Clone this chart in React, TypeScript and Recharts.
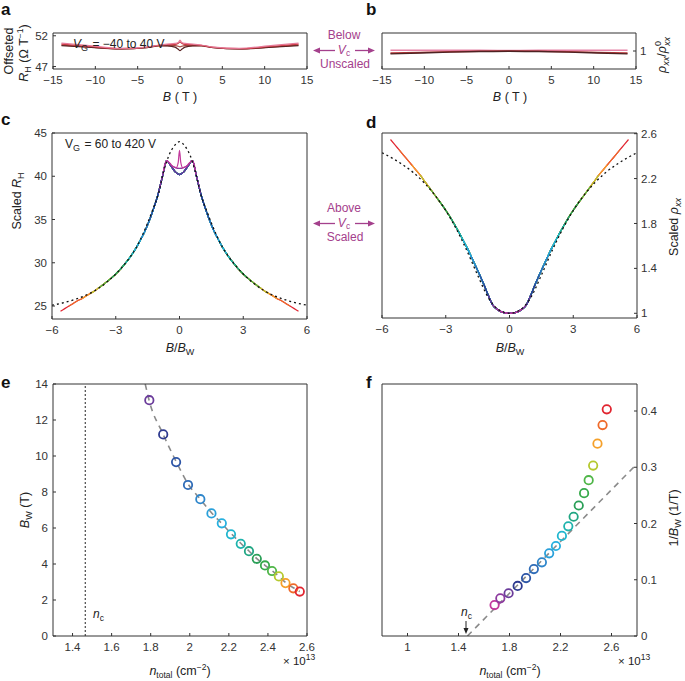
import React from 'react';
import { ComposedChart, Line, Scatter, XAxis, YAxis, ReferenceLine } from 'recharts';

const FONT = '"Liberation Sans", Arial, Helvetica, sans-serif';
const INK = '#333';
const NOTE = '#a4408c';
const FIELD_MAX = 14;

// one colour per gate voltage, lowest density first
const gateColors = [
  '#c2399c', '#8d3a9f', '#6b3c9b', '#2e3a8f', '#2d55a6', '#2f6cb8', '#2e86cb', '#2aa0da', '#27b0df', '#20b6cf',
  '#1eb3ad', '#21a683', '#2a9f57', '#36a94a', '#4fb648', '#b5c92f', '#f5a02a', '#ef6a2a', '#e12530',
];
const nTotal = [1.683, 1.728, 1.793, 1.864, 1.93, 1.991, 2.054, 2.111, 2.164, 2.211, 2.261, 2.303, 2.343, 2.385, 2.421, 2.456, 2.49, 2.53, 2.563];
const invBW = [0.055, 0.067, 0.076, 0.089, 0.103, 0.119, 0.131, 0.147, 0.16, 0.178, 0.195, 0.212, 0.232, 0.254, 0.277, 0.303, 0.342, 0.375, 0.403];
const bW = [null, null, 13.1, 11.2, 9.66, 8.39, 7.6, 6.81, 6.26, 5.65, 5.12, 4.71, 4.29, 3.92, 3.61, 3.31, 2.94, 2.65, 2.47];
const nC = 1.465;

// panel e/f fit lines
const eFitN = [1.772, 1.793, 1.864, 1.93, 1.991, 2.054, 2.111, 2.164, 2.211, 2.261, 2.303, 2.343, 2.385, 2.421, 2.456, 2.49, 2.53, 2.563];
const eFitB = [14.0, 13.05, 11.2, 9.7, 8.45, 7.6, 6.85, 6.25, 5.7, 5.15, 4.72, 4.3, 3.93, 3.62, 3.32, 2.98, 2.68, 2.47];
const fFitN = [1.47, 2.8];
const fFitInv = [0.0, 0.306];

// panel a: Hall coefficient below V_c
const aField = [-14, -11, -7, -4, -2.5, -1.5, -0.6, -0.2, 0, 0.2, 0.6, 1.5, 2.5, 4, 7, 11, 14];
const aPink = [50.8, 50.45, 49.95, 50.15, 50.5, 50.65, 50.75, 50.9, 51.3, 50.9, 50.75, 50.65, 50.5, 50.15, 49.95, 50.45, 50.8];
const aRed = [50.65, 50.3, 49.9, 50.1, 50.45, 50.55, 50.6, 50.8, 51.0, 50.8, 50.6, 50.55, 50.45, 50.1, 49.9, 50.3, 50.65];
const aBrown = [50.5, 50.2, 49.85, 50.05, 50.35, 50.4, 50.4, 50.3, 50.2, 50.3, 50.4, 50.4, 50.35, 50.05, 49.85, 50.2, 50.5];
const aDark = [50.4, 50.15, 49.85, 50.05, 50.4, 50.35, 50.15, 49.8, 49.6, 49.8, 50.15, 50.35, 50.4, 50.05, 49.85, 50.15, 50.4];

// panel b: normalised rho_xx below V_c
const bField = [-14, -10.5, -7, -3.5, 0, 3.5, 7, 10.5, 14];
const bPink = [1.004, 1.004, 1.004, 1.004, 1.003, 1.004, 1.004, 1.004, 1.004];
const bRed = [0.988, 0.992, 0.996, 0.999, 1.0, 0.999, 0.996, 0.992, 0.988];
const bDark = [0.984, 0.989, 0.994, 0.997, 0.999, 0.997, 0.994, 0.989, 0.984];

// panels c/d: scaled curves on a B/B_W grid
const scaledField = [
  -5.6, -5.4, -5.2, -5, -4.8, -4.6, -4.4, -4.2, -4, -3.8, -3.6, -3.4, -3.2, -3, -2.8, -2.6, -2.4, -2.2, -2, -1.8,
  -1.6, -1.4, -1.2, -1, -0.8, -0.6, -0.4, -0.2, 0, 0.2, 0.4, 0.6, 0.8, 1, 1.2, 1.4, 1.6, 1.8, 2, 2.2,
  2.4, 2.6, 2.8, 3, 3.2, 3.4, 3.6, 3.8, 4, 4.2, 4.4, 4.6, 4.8, 5, 5.2, 5.4, 5.6,
];
const cScaledRH = [
  24.4, 24.7, 25.0, 25.3, 25.6, 25.85, 26.15, 26.45, 26.75, 27.1, 27.45, 27.85, 28.25, 28.7, 29.2, 29.8, 30.4, 31.1, 31.9, 32.8,
  33.8, 35.0, 36.4, 38.0, 40.0, 41.8, 41.2, 40.5, 40.2, 40.5, 41.2, 41.8, 40.0, 38.0, 36.4, 35.0, 33.8, 32.8, 31.9, 31.1,
  30.4, 29.8, 29.2, 28.7, 28.25, 27.85, 27.45, 27.1, 26.75, 26.45, 26.15, 25.85, 25.6, 25.3, 25.0, 24.7, 24.4,
];
const dScaledRho = [
  2.548, 2.503, 2.457, 2.411, 2.366, 2.321, 2.276, 2.23, 2.178, 2.126, 2.075, 2.024, 1.972, 1.918, 1.86, 1.795, 1.728, 1.658, 1.585, 1.506,
  1.424, 1.34, 1.254, 1.16, 1.076, 1.038, 1.015, 1.004, 1.0, 1.004, 1.015, 1.038, 1.076, 1.16, 1.254, 1.34, 1.424, 1.506, 1.585, 1.658,
  1.728, 1.795, 1.86, 1.918, 1.972, 2.024, 2.075, 2.126, 2.178, 2.23, 2.276, 2.321, 2.366, 2.411, 2.457, 2.503, 2.548,
];
const cMagentaField = [-0.77, -0.7, -0.6, -0.45, -0.3, -0.15, -0.06, 0, 0.06, 0.15, 0.3, 0.45, 0.6, 0.7, 0.77];
const cMagenta = [40.3, 41.3, 41.8, 41.5, 41.1, 41.0, 41.6, 43.0, 41.6, 41.0, 41.1, 41.5, 41.8, 41.3, 40.3];
const cPurpleField = [-0.94, -0.8, -0.6, -0.4, -0.2, 0, 0.2, 0.4, 0.6, 0.8, 0.94];
const cPurple = [38.6, 40.0, 41.8, 41.3, 41.0, 40.9, 41.0, 41.3, 41.8, 40.0, 38.6];

const cFitField = [-6, -5.5, -5, -4.5, -4, -3.5, -3, -2.5, -2, -1.5, -1.25, -1, -0.75, -0.5, -0.25, 0, 0.25, 0.5, 0.75, 1, 1.25, 1.5, 2, 2.5, 3, 3.5, 4, 4.5, 5, 5.5, 6];
const cFit = [25.1, 25.35, 25.7, 26.15, 26.75, 27.6, 28.7, 30.1, 31.9, 34.6, 36.2, 37.9, 40.5, 42.4, 43.5, 44.0, 43.5, 42.4, 40.5, 37.9, 36.2, 34.6, 31.9, 30.1, 28.7, 27.6, 26.75, 26.15, 25.7, 25.35, 25.1];
const dFitField = [-6, -5.5, -5, -4.5, -4, -3.5, -3, -2.5, -2, -1.5, -1, -0.5, 0, 0.5, 1, 1.5, 2, 2.5, 3, 3.5, 4, 4.5, 5, 5.5, 6];
const dFit = [2.43, 2.38, 2.32, 2.25, 2.16, 2.05, 1.915, 1.75, 1.555, 1.34, 1.14, 1.03, 1.0, 1.03, 1.14, 1.34, 1.555, 1.75, 1.915, 2.05, 2.16, 2.25, 2.32, 2.38, 2.43];

type Pt = { x: number; y: number | null; color?: string };
type Box = { left: number; top: number; width: number; height: number };

const pts = (xs: number[], ys: (number | null)[]): Pt[] => xs.map((x, i) => ({ x, y: ys[i] }));
const fmt = (v: number) => String(Number(v.toFixed(2))).replace('-', '\u2212');

const AX_W = 46;
const AX_T = 12;
const AX_B = 30;
const tickStyle = { fontSize: 11.5, fill: INK };

interface PanelProps {
  box: Box;
  xDomain: [number, number];
  xTicks: number[];
  yDomain: [number, number];
  yTicks: number[];
  labelSide: 'left' | 'right';
  children: React.ReactNode;
}

const Panel: React.FC<PanelProps> = ({ box, xDomain, xTicks, yDomain, yTicks, labelSide, children }) => (
  <div style={{ position: 'absolute', left: box.left - AX_W, top: box.top - AX_T }}>
    <ComposedChart
      width={box.width + 2 * AX_W}
      height={box.height + AX_T + AX_B}
      margin={{ top: 0, right: 0, bottom: 0, left: 0 }}
      style={{ fontFamily: FONT }}
    >
      <XAxis xAxisId="b" dataKey="x" type="number" domain={xDomain} ticks={xTicks} allowDataOverflow interval={0}
        tickFormatter={fmt} tickSize={-3} tickMargin={10} height={AX_B} stroke={INK} tick={tickStyle} />
      <XAxis xAxisId="t" orientation="top" dataKey="x" type="number" domain={xDomain} ticks={xTicks} allowDataOverflow
        interval={0} tick={false} tickSize={-3} height={AX_T} stroke={INK} />
      <YAxis yAxisId="l" orientation="left" type="number" domain={yDomain} ticks={yTicks} allowDataOverflow interval={0}
        tickFormatter={fmt} tick={labelSide === 'left' ? tickStyle : false} tickSize={-3} tickMargin={8} width={AX_W} stroke={INK} />
      <YAxis yAxisId="r" orientation="right" type="number" domain={yDomain} ticks={yTicks} allowDataOverflow interval={0}
        tickFormatter={fmt} tick={labelSide === 'right' ? tickStyle : false} tickSize={-3} tickMargin={7} width={AX_W} stroke={INK} />
      {children}
    </ComposedChart>
  </div>
);

const curve = (key: string, data: Pt[], color: string, width = 1.2, dash?: string) => (
  <Line key={key} data={data} dataKey="y" xAxisId="b" yAxisId="l" type="monotone" dot={false} stroke={color}
    strokeWidth={width} strokeDasharray={dash} isAnimationActive={false} connectNulls={false} />
);

const Ring = (props: any) => {
  const { cx, cy, payload } = props;
  if (typeof cx !== 'number' || typeof cy !== 'number' || !payload) return null;
  return <circle cx={cx} cy={cy} r={4.2} fill="none" stroke={payload.color} strokeWidth={1.8} />;
};

// draw outer (red) curves first so inner gates sit on top
const gateOrder = gateColors.map((_, i) => gateColors.length - 1 - i);
const reach = (i: number) => FIELD_MAX * invBW[i] + 1e-6;

const cCurves = gateOrder.map((i) => {
  if (i === 0) return curve(`c${i}`, pts(cMagentaField, cMagenta), gateColors[i]);
  if (i === 1) return curve(`c${i}`, pts(cPurpleField, cPurple), gateColors[i]);
  const data = pts(scaledField, cScaledRH).filter((p) => Math.abs(p.x) <= reach(i));
  return curve(`c${i}`, data, gateColors[i]);
});
const dCurves = gateOrder.map((i) =>
  curve(`d${i}`, pts(scaledField, dScaledRho).filter((p) => Math.abs(p.x) <= reach(i)), gateColors[i])
);

const eData: Pt[] = nTotal
  .map((x, i) => ({ x, y: bW[i], color: gateColors[i] }))
  .filter((p) => p.y !== null);
const fData: Pt[] = nTotal.map((x, i) => ({ x, y: invBW[i], color: gateColors[i] }));

const Sub: React.FC<{ children: React.ReactNode; size?: number }> = ({ children, size = 9 }) => (
  <>
    <tspan dy={3} fontSize={size}>{children}</tspan>
    <tspan dy={-3}>{'\u200a'}</tspan>
  </>
);

const Arrow: React.FC<{ x1: number; x2: number; y: number }> = ({ x1, x2, y }) => {
  const d = x2 > x1 ? 1 : -1;
  return (
    <g>
      <line x1={x1} y1={y} x2={x2 - d * 5} y2={y} stroke={NOTE} strokeWidth={1.3} />
      <polygon points={`${x2},${y} ${x2 - d * 7},${y - 3} ${x2 - d * 7},${y + 3}`} fill={NOTE} />
    </g>
  );
};

const Note: React.FC<{ top: string; bottom: string; y: number }> = ({ top, bottom, y }) => (
  <g fill={NOTE} fontSize={12} textAnchor="middle">
    <text x={344} y={y}>{top}</text>
    <text x={344} y={y + 14.5}>
      <tspan fontStyle="italic">V</tspan>
      <tspan dy={2} fontSize={8.5}>c</tspan>
    </text>
    <text x={345} y={y + 29}>{bottom}</text>
    <Arrow x1={335} x2={313} y={y + 11.5} />
    <Arrow x1={355} x2={375} y={y + 11.5} />
  </g>
);

const Overlay: React.FC = () => (
  <svg width={685} height={681} style={{ position: 'absolute', left: 0, top: 0, pointerEvents: 'none' }} fontFamily={FONT} fill="#222">
    <g fontSize={17} fontWeight="bold" fill="#111">
      <text x={1} y={15}>a</text>
      <text x={366} y={15}>b</text>
      <text x={1} y={125}>c</text>
      <text x={366} y={128}>d</text>
      <text x={1} y={388}>e</text>
      <text x={366} y={388}>f</text>
    </g>
    <g fontSize={12}>
      <text x={73} y={48}>
        <tspan fontStyle="italic">V</tspan><Sub>G</Sub>{' = \u221240 to 40 V'}
      </text>
      <text x={65} y={148}>
        V<Sub>G</Sub>{' = 60 to 420 V'}
      </text>
    </g>
    <g fontSize={12.5} textAnchor="middle">
      <text x={180} y={101}><tspan fontStyle="italic">B</tspan> ( T )</text>
      <text x={510} y={101}><tspan fontStyle="italic">B</tspan> ( T )</text>
      <text x={180} y={352}>
        <tspan fontStyle="italic">B</tspan>/<tspan fontStyle="italic">B</tspan><tspan dy={3} fontSize={9}>W</tspan>
      </text>
      <text x={510} y={352}>
        <tspan fontStyle="italic">B</tspan>/<tspan fontStyle="italic">B</tspan><tspan dy={3} fontSize={9}>W</tspan>
      </text>
      <text x={180} y={675}>
        <tspan fontStyle="italic">n</tspan><tspan dy={3} fontSize={8.5}>total</tspan><tspan dy={-3}> (cm</tspan>
        <tspan dy={-5} fontSize={8.5}>{'\u22122'}</tspan><tspan dy={5}>)</tspan>
      </text>
      <text x={510} y={675}>
        <tspan fontStyle="italic">n</tspan><tspan dy={3} fontSize={8.5}>total</tspan><tspan dy={-3}> (cm</tspan>
        <tspan dy={-5} fontSize={8.5}>{'\u22122'}</tspan><tspan dy={5}>)</tspan>
      </text>
      <text transform="translate(13,51) rotate(-90)">Offseted</text>
      <text transform="translate(28,53) rotate(-90)">
        <tspan fontStyle="italic">R</tspan><tspan dy={3} fontSize={9}>H</tspan><tspan dy={-3}> ({'\u03a9'} T</tspan>
        <tspan dy={-5} fontSize={8.5}>{'\u22121'}</tspan><tspan dy={5}>)</tspan>
      </text>
      <text transform="translate(666,55) rotate(-90)">
        <tspan fontStyle="italic">{'\u03c1'}</tspan><tspan dy={3} fontSize={9} fontStyle="italic">xx</tspan>
        <tspan dy={-3}>/</tspan><tspan fontStyle="italic">{'\u03c1'}</tspan>
        <tspan dy={-5} fontSize={9}>0</tspan><tspan dx={-5} dy={9} fontSize={9} fontStyle="italic">xx</tspan>
      </text>
      <text transform="translate(21,201) rotate(-90)">
        Scaled <tspan fontStyle="italic">R</tspan><tspan dy={3} fontSize={9}>H</tspan>
      </text>
      <text transform="translate(678,227) rotate(-90)">
        Scaled <tspan fontStyle="italic">{'\u03c1'}</tspan><tspan dy={3} fontSize={9} fontStyle="italic">xx</tspan>
      </text>
      <text transform="translate(29,510) rotate(-90)">
        <tspan fontStyle="italic">B</tspan><tspan dy={3} fontSize={9}>W</tspan><tspan dy={-3}> (T)</tspan>
      </text>
      <text transform="translate(678,518) rotate(-90)">
        1/<tspan fontStyle="italic">B</tspan><tspan dy={3} fontSize={9}>W</tspan><tspan dy={-3}> (1/T)</tspan>
      </text>
    </g>
    <g fontSize={11.5}>
      <text x={283} y={665}>{'\u00d7 10'}<tspan dy={-5} fontSize={8.5}>13</tspan></text>
      <text x={618} y={665}>{'\u00d7 10'}<tspan dy={-5} fontSize={8.5}>13</tspan></text>
      <text x={93} y={618} fontSize={12}>
        <tspan fontStyle="italic">n</tspan><tspan dy={3} fontSize={8.5}>c</tspan>
      </text>
      <text x={461} y={616} fontSize={12}>
        <tspan fontStyle="italic">n</tspan><tspan dy={3} fontSize={8.5}>c</tspan>
      </text>
    </g>
    <line x1={466} y1={621} x2={466} y2={630} stroke="#222" strokeWidth={1} />
    <polygon points="466,634 463.5,628 468.5,628" fill="#222" />
    <Note top="Below" bottom="Unscaled" y={39} />
    <Note top="Above" bottom="Scaled" y={212} />
  </svg>
);

const boxA: Box = { left: 53, top: 33, width: 254, height: 36 };
const boxB: Box = { left: 382, top: 33, width: 254, height: 36 };
const boxC: Box = { left: 52, top: 133, width: 255, height: 186 };
const boxD: Box = { left: 382, top: 133, width: 255, height: 185 };
const boxE: Box = { left: 53, top: 384, width: 254, height: 252 };
const boxF: Box = { left: 382, top: 384, width: 255, height: 252 };

const fieldTicks = [-15, -10, -5, 0, 5, 10, 15];
const scaledTicks = [-6, -3, 0, 3, 6];

const App: React.FC = () => (
  <div style={{ position: 'absolute', left: 0, top: 0, width: 685, height: 681, background: '#fff', fontFamily: FONT }}>
    <Panel box={boxA} xDomain={[-15, 15]} xTicks={fieldTicks} yDomain={[46.6, 52.45]} yTicks={[47, 52]} labelSide="left">
      {curve('a1', pts(aField, aBrown), '#a0453c')}
      {curve('a2', pts(aField, aDark), '#5a2323')}
      {curve('a3', pts(aField, aRed), '#cc3540')}
      {curve('a4', pts(aField, aPink), '#e57a98')}
    </Panel>
    <Panel box={boxB} xDomain={[-15, 15]} xTicks={fieldTicks} yDomain={[0.9, 1.1]} yTicks={[1]} labelSide="right">
      {curve('b1', pts(bField, bPink), '#e581a6', 1.5)}
      {curve('b2', pts(bField, bRed), '#b83a3a', 1.6)}
      {curve('b3', pts(bField, bDark), '#4e2222', 1.4)}
    </Panel>
    <Panel box={boxC} xDomain={[-6, 6]} xTicks={scaledTicks} yDomain={[23.5, 45]} yTicks={[25, 30, 35, 40, 45]} labelSide="left">
      {cCurves}
      {curve('cfit', pts(cFitField, cFit), '#111', 1.3, '2 3')}
    </Panel>
    <Panel box={boxD} xDomain={[-6, 6]} xTicks={scaledTicks} yDomain={[0.958, 2.606]} yTicks={[1, 1.4, 1.8, 2.2, 2.6]} labelSide="right">
      {dCurves}
      {curve('dfit', pts(dFitField, dFit), '#111', 1.3, '2 3')}
    </Panel>
    <Panel box={boxE} xDomain={[1.3, 2.6]} xTicks={[1.4, 1.6, 1.8, 2, 2.2, 2.4, 2.6]} yDomain={[0, 14]}
      yTicks={[0, 2, 4, 6, 8, 10, 12, 14]} labelSide="left">
      <ReferenceLine x={nC} xAxisId="b" yAxisId="l" stroke="#222" strokeDasharray="2 2" />
      {curve('efit', pts(eFitN, eFitB), '#8a8a8a', 1.6, '6 5')}
      <Scatter data={eData} dataKey="y" xAxisId="b" yAxisId="l" shape={Ring} isAnimationActive={false} />
    </Panel>
    <Panel box={boxF} xDomain={[0.8, 2.8]} xTicks={[1, 1.4, 1.8, 2.2, 2.6]} yDomain={[0, 0.448]}
      yTicks={[0, 0.1, 0.2, 0.3, 0.4]} labelSide="right">
      {curve('ffit', pts(fFitN, fFitInv), '#8a8a8a', 1.6, '6 5')}
      <Scatter data={fData} dataKey="y" xAxisId="b" yAxisId="l" shape={Ring} isAnimationActive={false} />
    </Panel>
    <Overlay />
  </div>
);

export default App;
